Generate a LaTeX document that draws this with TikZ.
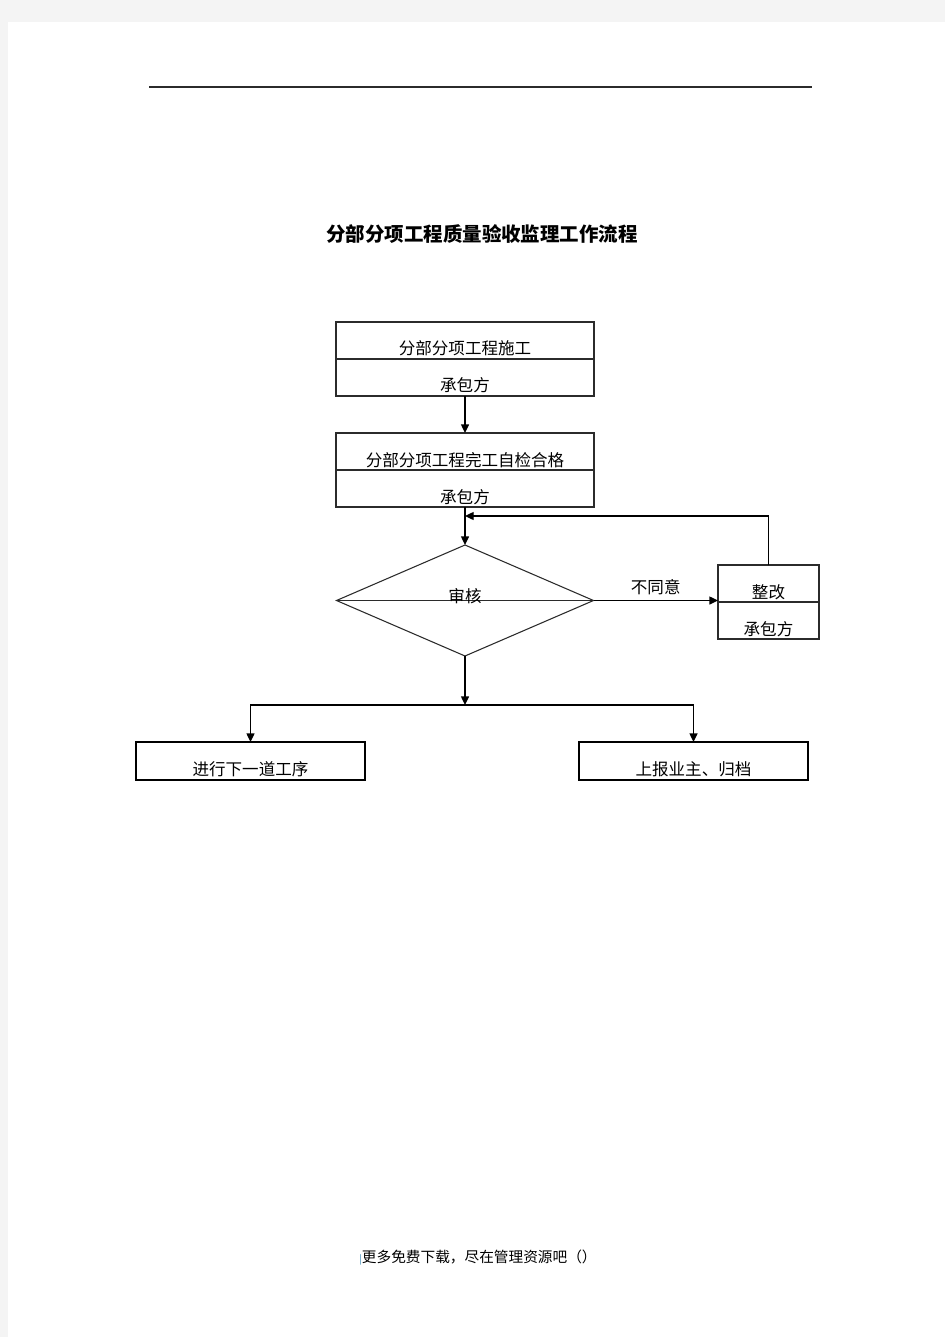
\documentclass[tikz,border=0pt]{standalone}
\usepackage{fontspec}
\setmainfont{Noto Sans CJK SC}
\usepackage{tikz}
\usetikzlibrary{arrows.meta, positioning, shapes.geometric}

\definecolor{pagegray}{HTML}{F4F4F4}
\definecolor{linegray}{HTML}{2B2B2B}
\definecolor{barblue}{HTML}{2A7FB0}

\begin{document}
\begin{tikzpicture}[x=0.75pt, y=-0.75pt,
    >={Triangle[length=6.5pt,width=6pt]},
    every node/.style={inner sep=0pt, outer sep=0pt},
    twobox/.style={rectangle,
                   draw=linegray,
                   line width=0.8pt,
                   minimum width=193.5pt,  % two-part boxes
                   minimum height=55.5pt},
    endbox/.style={rectangle,
                   draw=black,
                   line width=1.4pt,
                   minimum width=171.75pt,
                   minimum height=28.5pt},
    txt/.style={font=\fontsize{12.4}{14}\selectfont},
    flow/.style={->, line width=1pt, draw=black}]

  % page
  \useasboundingbox (0,0) rectangle (945,1337);
  \fill[pagegray] (0,0) rectangle (945,1337);
  \fill[white] (8,22) rectangle (945,1337);
  \draw[line width=1pt, linegray] (149,87) -- (812,87);

  % title
  \node (Title) at (482,234) {\fontsize{14.6}{18}\selectfont\bfseries 分部分项工程质量验收监理工作流程};

  % boxes
  \node[twobox] (Build) at (465,359) {};
  \draw[linegray, line width=0.8pt] (Build.west) -- (Build.east);
  \node[txt] (BuildTop) at (465,348) {分部分项工程施工};
  \node[txt] (BuildBot) at (465,385) {承包方};

  \node[twobox] (Check) at (465,470) {};
  \draw[linegray, line width=0.8pt] (Check.west) -- (Check.east);
  \node[txt] (CheckTop) at (465,460) {分部分项工程完工自检合格};
  \node[txt] (CheckBot) at (465,497) {承包方};

  \node[diamond, draw=linegray, line width=0.8pt,
        minimum width=192.75pt, minimum height=83.25pt] (Review) at (465,600.5) {};
  \draw[linegray, line width=0.8pt] (Review.west) -- (Review.east);
  \node[txt] (ReviewTxt) at (465,596) {审核};

  \node[twobox, minimum width=75.75pt] (Fix) at (768.5,602) {};
  \draw[linegray, line width=0.8pt] (Fix.west) -- (Fix.east);
  \node[txt] (FixTop) at (768.5,592) {整改};
  \node[txt] (FixBot) at (768.5,629) {承包方};

  \node[endbox] (Next) at (250.5,761) {};
  \node[txt] (NextTxt) at (250.5,769) {进行下一道工序};
  \node[endbox] (Report) at (693.5,761) {};
  \node[txt] (ReportTxt) at (693.5,769) {上报业主、归档};

  \coordinate (Back) at (465,516);
  \coordinate (Split) at (465,705);

  % arrows
  \draw[flow] (Build) -- (Check);
  \draw[flow] (Check) -- (Review);
  \draw[flow] (Review.east) -- node[txt, above=4pt] (No) {不同意} (Review.east -| Fix.west);
  \draw[flow] (Fix.north) |- (Back);
  \draw[flow] (Review.south) -- (Split);
  \draw[flow] (Split) -| (Next.north);
  \draw[flow] (Split) -| (Report.north);

  % footer
  \node (Foot) at (478,1258) {\fontsize{11}{13}\selectfont{\color{barblue}\scriptsize|}更多免费下载，尽在管理资源吧（）};

\end{tikzpicture}
\end{document}
